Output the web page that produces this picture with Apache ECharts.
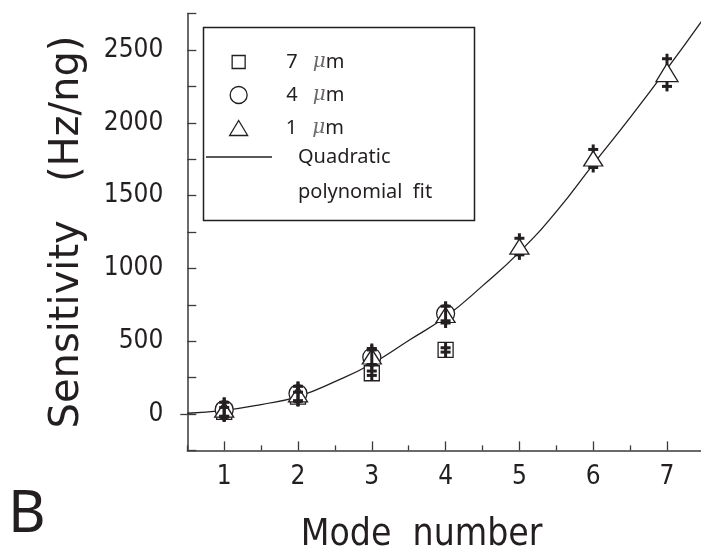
<!DOCTYPE html>
<html>
<head>
<meta charset="utf-8">
<script src="https://cdn.jsdelivr.net/npm/echarts@6/dist/echarts.min.js"></script>
<style>
  html, body { margin: 0; padding: 0; background: #ffffff; }
  #chart { width: 701px; height: 547px; }
</style>
</head>
<body>
<div id="chart"></div>
<script>
// Mode numbers on the horizontal axis
const modes = [1, 2, 3, 4, 5, 6, 7];

// Mass sensitivity (Hz/ng) and error half-widths per mode, by particle size
const sens7um = [15, 120, 280, 440];
const err7um = [30, 30, 15, 15];
const sens4um = [30, 140, 390, 690];
const err4um = [50, 50, 50, 50];
const sens1um = [30, 135, 395, 680, 1150, 1755, 2345];
const err1um = [48, 50, 55, 55, 57, 62, 95];

// Quadratic polynomial fit curve, sampled along the mode axis
const fitModes = [0.5, 1, 1.5, 2, 2.5, 3, 3.5, 4, 4.5, 5, 5.5, 6, 6.5, 7, 7.5];
const fitSens = [5, 25, 65, 120, 222, 345, 505, 668, 880, 1112, 1390, 1715, 2035, 2370, 2720];

// Tick positions
const xMajorTicks = [1, 2, 3, 4, 5, 6, 7];
const xMinorTicks = [0.5, 1.5, 2.5, 3.5, 4.5, 5.5, 6.5, 7.5];

const INK = '#231f20';
const AXIS = '#3a3a3a';
const NUM_FONT = '"Liberation Sans Narrow", "DejaVu Sans Condensed", "Noto Sans", sans-serif';
const TEXT_FONT = '"Noto Sans", "Open Sans", sans-serif';

const pairs = (xs, ys) => ys.map((v, i) => [xs[i], v]);
const ranges = (xs, ys, es) => ys.map((v, i) => [xs[i], v - es[i], v + es[i]]);

// Thick error bar: vertical stroke with a small overhang and caps at both ends
function errorBar(params, api) {
  const x = api.value(0);
  const top = api.coord([x, api.value(2)]);
  const bot = api.coord([x, api.value(1)]);
  const cap = 5, overhang = 5;
  const style = { stroke: INK, lineWidth: 3 };
  return {
    type: 'group',
    children: [
      { type: 'line', shape: { x1: top[0], y1: top[1] - overhang, x2: bot[0], y2: bot[1] + overhang }, style },
      { type: 'line', shape: { x1: top[0] - cap, y1: top[1], x2: top[0] + cap, y2: top[1] }, style },
      { type: 'line', shape: { x1: bot[0] - cap, y1: bot[1], x2: bot[0] + cap, y2: bot[1] }, style }
    ]
  };
}

// Label-free axes that only carry tick marks
function tickOnlyX(values, length) {
  return {
    type: 'value', min: 0.5, max: 7.5, position: 'bottom',
    axisLine: { show: false, onZero: false },
    axisTick: { show: true, inside: true, length, customValues: values, lineStyle: { color: AXIS, width: 1.3 } },
    axisLabel: { show: false }, splitLine: { show: false }
  };
}

const markerStyle = { color: '#ffffff', borderColor: INK, borderWidth: 1.3, opacity: 1 };
const legendText = {
  fontFamily: TEXT_FONT, fontSize: 20, color: INK, lineHeight: 26,
  rich: { mu: { fontFamily: '"DejaVu Serif", serif', fontStyle: 'italic', fontSize: 20, color: '#6d6a6b', padding: [0, 0, 0, 10] } }
};
function legendRow(extra, textPad) {
  return Object.assign({
    orient: 'vertical',
    padding: 0,
    itemGap: 0,
    selectedMode: false,
    itemStyle: { color: '#ffffff', borderColor: INK, borderWidth: 1.3, opacity: 1 },
    lineStyle: { color: INK, width: 1.3 },
    formatter: name => name.replace(' μ', ' {mu|μ}'),
    textStyle: Object.assign({}, legendText, textPad)
  }, extra);
}

const chart = echarts.init(document.getElementById('chart'), null, { renderer: 'canvas' });

chart.setOption({
  animation: false,
  backgroundColor: '#ffffff',
  grid: { left: 187.3, right: -2.9, top: 13.6, bottom: 96.6, outerBoundsMode: 'none', containLabel: false },
  xAxis: [
    {
      type: 'value', min: 0.5, max: 7.5, interval: 0.5,
      name: 'Mode  number', nameLocation: 'middle', nameGap: 66,
      nameTextStyle: { fontFamily: NUM_FONT, fontSize: 37, color: INK, padding: [0, 48, 0, 0] },
      axisLine: { show: true, onZero: false, lineStyle: { color: AXIS, width: 1.5 } },
      axisTick: { show: false },
      axisLabel: {
        show: true, interval: 0, margin: 14, fontFamily: NUM_FONT, fontSize: 26, color: INK,
        formatter: v => (xMajorTicks.indexOf(v) >= 0) ? String(v) : ''
      },
      splitLine: { show: false }
    },
    tickOnlyX(xMajorTicks, 9),
    tickOnlyX(xMinorTicks, 5)
  ],
  yAxis: [
    {
      type: 'value', min: -250, max: 2750, interval: 250,
      name: 'Sensitivity   (Hz/ng)', nameLocation: 'middle', nameGap: 100, nameRotate: 90,
      nameTextStyle: { fontFamily: '"DejaVu Sans", sans-serif', fontSize: 40, color: INK },
      axisLine: { show: true, onZero: false, lineStyle: { color: AXIS, width: 1.5 } },
      axisTick: { show: true, interval: 0, inside: true, length: 9, lineStyle: { color: AXIS, width: 1.3 } },
      axisLabel: {
        show: true, interval: 0, margin: 24, fontFamily: NUM_FONT, fontSize: 26, color: INK,
        formatter: v => (v % 500 === 0 && v >= 0) ? String(v) : ''
      },
      splitLine: { show: false }
    },
    {
      type: 'value', min: -250, max: 2750, position: 'left',
      axisLine: { show: false, onZero: false },
      axisTick: { show: true, inside: false, length: 7, customValues: [0], lineStyle: { color: AXIS, width: 1.3 } },
      axisLabel: { show: false }, splitLine: { show: false }
    }
  ],
  legend: [
    legendRow({ left: 231.5, top: 49, itemWidth: 13, itemHeight: 13, data: [{ name: '7 μm', icon: 'rect' }] },
      { padding: [0, 0, 0, 36] }),
    legendRow({ left: 229.5, top: 82, itemWidth: 17, itemHeight: 17, data: [{ name: '4 μm', icon: 'circle' }] },
      { padding: [0, 0, 0, 34] }),
    legendRow({ left: 229, top: 115, itemWidth: 18, itemHeight: 15, data: [{ name: '1 μm', icon: 'triangle' }] },
      { padding: [0, 0, 0, 33] }),
    legendRow({
      left: 206, top: 104.5, itemWidth: 66, itemHeight: 14,
      data: [{ name: 'Quadratic polynomial fit', icon: 'path://M0,0H66V1.3H0Z', itemStyle: { color: INK, borderWidth: 0, opacity: 1 } }],
      formatter: () => 'Quadratic\npolynomial  fit'
    }, { lineHeight: 35, padding: [35, 0, 0, 21] })
  ],
  graphic: [
    {
      type: 'rect', z: 1,
      shape: { x: 203.5, y: 27.5, width: 271, height: 193 },
      style: { fill: '#ffffff', stroke: INK, lineWidth: 1.5 }
    },
    {
      type: 'text', z: 10, left: 8, top: 486,
      style: { text: 'B', font: '58px "Noto Sans", sans-serif', fill: INK }
    }
  ],
  series: [
    {
      name: 'Quadratic polynomial fit', type: 'line', data: pairs(fitModes, fitSens),
      smooth: true, symbol: 'none', z: 1,
      lineStyle: { color: INK, width: 1.3 }
    },
    {
      name: '1 μm error', type: 'custom', renderItem: errorBar, z: 2,
      data: ranges(modes, sens1um, err1um), encode: { x: 0, y: [1, 2] }
    },
    {
      name: '7 μm', type: 'scatter', symbol: 'rect', symbolSize: 15, z: 3,
      itemStyle: markerStyle, data: pairs(modes, sens7um)
    },
    {
      name: '4 μm', type: 'scatter', symbol: 'circle', symbolSize: 18, z: 3,
      itemStyle: markerStyle, data: pairs(modes, sens4um)
    },
    {
      name: '1 μm', type: 'scatter', symbol: 'triangle', symbolSize: [19, 15], z: 4,
      itemStyle: markerStyle,
      data: pairs(modes, sens1um).map((p, i) => i === 6 ? { value: p, symbolSize: [22, 18] } : p)
    },
    {
      name: '7 μm error', type: 'custom', renderItem: errorBar, z: 5,
      data: ranges(modes, sens7um, err7um), encode: { x: 0, y: [1, 2] }
    },
    {
      name: '4 μm error', type: 'custom', renderItem: errorBar, z: 5,
      data: ranges(modes, sens4um, err4um), encode: { x: 0, y: [1, 2] }
    }
  ]
});
</script>
</body>
</html>
